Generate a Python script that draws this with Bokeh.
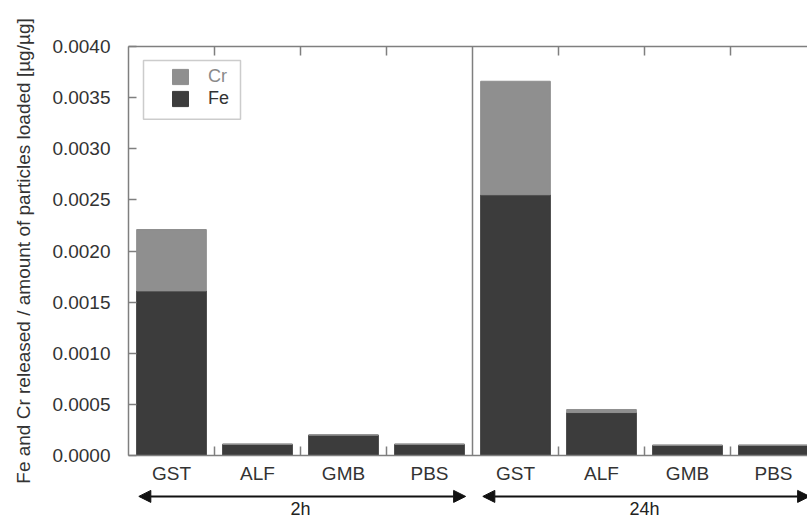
from bokeh.plotting import figure
from bokeh.models import (ColumnDataSource, Range1d, FixedTicker, LinearAxis, Span, BoxAnnotation,
                          Legend, LegendItem, Arrow, NormalHead, PrintfTickFormatter)
from bokeh.layouts import column
from bokeh.embed import file_html
from bokeh.resources import INLINE
from bokeh.core.properties import value

# ---------------- data ----------------
media = ["GST", "ALF", "GMB", "PBS"]
times = ["2h", "24h"]
fe_2h = [0.00161, 0.00011, 0.00020, 0.00011]
cr_2h = [0.00060, 0.0, 0.0, 0.0]
fe_24h = [0.00255, 0.00042, 0.00010, 0.00010]
cr_24h = [0.00111, 0.00003, 0.0, 0.0]
y_ticks = [0.0, 0.0005, 0.0010, 0.0015, 0.0020, 0.0025, 0.0030, 0.0035, 0.0040]
y_label = "Fe and Cr released / amount of particles loaded [µg/µg]"

# ---------------- style ----------------
FONT = "Liberation Sans"
FE_C = "#3c3c3c"
CR_C = "#8f8f8f"
AX_C = "#7f7f7f"
TXT_C = "#333333"

W = 807
LEFT = 128
TOP = 46
FRAME_H = 410
UNIT = 86.0

n_media = len(media)
labels = media * len(times)
xs = [i + 0.5 for i in range(len(labels))]
src = ColumnDataSource(dict(x=xs, label=labels, Fe=fe_2h + fe_24h, Cr=cr_2h + cr_24h))

x_end = (W - LEFT) / UNIT
xr = Range1d(0, x_end)
yr = Range1d(0, y_ticks[-1])


def px2x(px):
    return (px - LEFT) / UNIT


def px2y(py):
    return (TOP + FRAME_H - py) / FRAME_H * (yr.end - yr.start) + yr.start


p = figure(width=W, height=TOP + FRAME_H + 30, x_range=xr, y_range=yr,
           output_backend="svg", toolbar_location=None,
           min_border_left=LEFT, min_border_right=0, min_border_top=TOP, min_border_bottom=30)
p.outline_line_color = None
p.xgrid.visible = False
p.ygrid.visible = False
p.background_fill_color = "white"
p.border_fill_color = "white"

rs = p.vbar_stack(["Fe", "Cr"], x="x", width=0.81, source=src,
                  fill_color=[FE_C, CR_C], line_color=[FE_C, CR_C], line_width=1)

boundaries = [i for i in range(1, len(labels)) if i % n_media != 0]

# bottom axis
xa = p.xaxis[0]
xa.ticker = FixedTicker(ticks=xs, minor_ticks=boundaries)
xa.major_label_overrides = {x: lab for x, lab in zip(xs, labels)}
xa.major_tick_in = 0
xa.major_tick_out = 0
xa.minor_tick_in = 9
xa.minor_tick_out = 0
xa.minor_tick_line_color = AX_C
xa.minor_tick_line_width = 1.5
xa.axis_line_color = AX_C
xa.axis_line_width = 1.5
xa.major_label_standoff = 7
xa.major_label_text_font = FONT
xa.major_label_text_font_size = "19px"
xa.major_label_text_color = TXT_C

# top axis (ticks only)
ta = LinearAxis(ticker=FixedTicker(ticks=[], minor_ticks=boundaries))
ta.major_tick_in = 0
ta.major_tick_out = 0
ta.minor_tick_in = 9
ta.minor_tick_out = 0
ta.minor_tick_line_color = AX_C
ta.minor_tick_line_width = 1.5
ta.axis_line_color = AX_C
ta.axis_line_width = 1.5
p.add_layout(ta, "above")

# left axis
ya = p.yaxis[0]
ya.ticker = FixedTicker(ticks=y_ticks)
ya.formatter = PrintfTickFormatter(format="%.4f")
ya.major_tick_in = 8
ya.major_tick_out = 0
ya.major_tick_line_color = AX_C
ya.major_tick_line_width = 1.5
ya.minor_tick_in = 0
ya.minor_tick_out = 0
ya.axis_line_color = AX_C
ya.axis_line_width = 1.5
ya.major_label_standoff = 18
ya.major_label_text_font = FONT
ya.major_label_text_font_size = "19px"
ya.major_label_text_color = TXT_C
ya.axis_label = y_label
ya.axis_label_text_font = FONT
ya.axis_label_text_font_size = "19px"
ya.axis_label_text_font_style = "normal"
ya.axis_label_text_color = TXT_C
ya.axis_label_standoff = 15

# separator between the time groups
p.add_layout(Span(location=n_media, dimension="height", line_color=AX_C, line_width=1.5))

# legend frame
p.add_layout(BoxAnnotation(left=px2x(143), right=px2x(240), top=px2y(60), bottom=px2y(119),
                           fill_color=None, fill_alpha=0, line_color="#555555", line_width=1.5))

for r, name, col, loc in [(rs[1], "Cr", "#8a8a8a", (42, 368)), (rs[0], "Fe", TXT_C, (42, 346))]:
    leg = Legend(items=[LegendItem(label=name, renderers=[r])], location=loc,
                 padding=0, margin=0, border_line_color=None, background_fill_alpha=0,
                 glyph_width=20, glyph_height=19, label_height=19, label_standoff=18,
                 label_text_font=FONT, label_text_font_size="18px", label_text_color=col)
    p.add_layout(leg, "center")

# ---------------- arrows figure ----------------
pa = figure(width=W, height=33, x_range=xr, y_range=Range1d(0, 1),
            output_backend="svg", toolbar_location=None,
            x_axis_location=None, y_axis_location=None,
            min_border_left=LEFT, min_border_right=0, min_border_top=0, min_border_bottom=0)
pa.outline_line_color = None
pa.xgrid.visible = False
pa.ygrid.visible = False

centers = []
for g, t in enumerate(times):
    s = g * n_media
    e = (g + 1) * n_media
    centers.append((s + e) / 2)
    pa.add_layout(Arrow(x_start=s + 0.12, x_end=e - 0.08, y_start=0.7, y_end=0.7,
                        line_color="#111111", line_width=2,
                        start=NormalHead(size=12, fill_color="#111111", line_color="#111111"),
                        end=NormalHead(size=12, fill_color="#111111", line_color="#111111")))

tsrc = ColumnDataSource(dict(x=centers, y=[0.03] * len(times), t=times))
pa.text(x="x", y="y", text="t", source=tsrc, text_align="center", text_baseline="bottom",
        text_font=value(FONT), text_font_size="18px", text_color="#222222")

layout = column(p, pa, spacing=0)
open("out.html", "w").write(file_html(layout, INLINE))
